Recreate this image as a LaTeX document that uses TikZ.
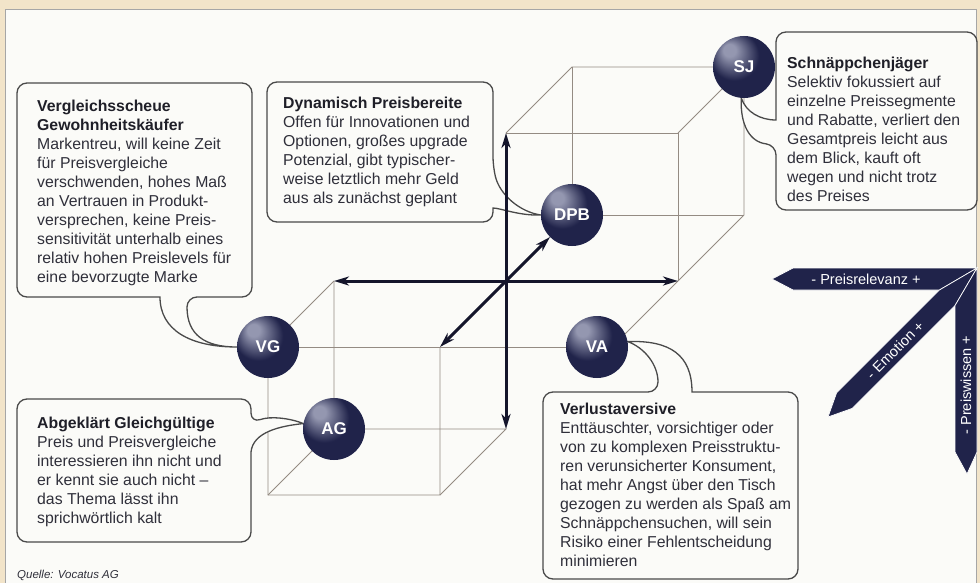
\documentclass[tikz,border=0pt]{standalone}
\usepackage{fontspec}
\setmainfont{Liberation Sans}
\usetikzlibrary{arrows.meta,backgrounds}
\definecolor{navy}{HTML}{20234A}
\definecolor{ballhi}{HTML}{9497B0}
\definecolor{frame}{HTML}{F2E4C9}
\definecolor{panel}{HTML}{FBFBF8}
\definecolor{cubeline}{HTML}{948B83}
\definecolor{boxline}{HTML}{4A4A4A}
\definecolor{txt}{HTML}{2F2F3A}
\definecolor{headtxt}{HTML}{1F1F28}
\definecolor{arrowcol}{HTML}{14152B}
\pgfdeclareradialshading{navyball}{\pgfpoint{-13bp}{15bp}}{color(0bp)=(ballhi); color(5bp)=(ballhi); color(20bp)=(navy); color(40bp)=(navy); color(50bp)=(navy!70!black)}
\newcommand{\boxhead}[1]{{\color{headtxt}\bfseries #1}}
\tikzset{
	ball/.style={circle,minimum size=62pt,inner sep=0pt,shade,shading=navyball,text=white,font=\bfseries\fontsize{17}{17}\selectfont},
	edge/.style={cubeline,line width=0.9pt},
	axis/.style={arrowcol,line width=3pt,<->,>={Stealth[length=15pt,width=9pt,inset=4.5pt]}},
	callout/.style={boxline,line width=1.3pt,fill=panel},
	boxtext/.style={anchor=north west,align=left,inner sep=0pt,text=txt,font=\fontsize{15.8}{19}\selectfont},
	band/.style={fill=navy,draw=white,line width=0.7pt},
	bandtext/.style={text=white,inner sep=0pt,font=\fontsize{14.5}{14.5}\selectfont}
}

\begin{document}
\begin{tikzpicture}[x=1pt,y=-1pt]
	\useasboundingbox (0,0) rectangle (980,583);

	\node[ball] (VG) at (268,347) {VG};
	\node[ball] (AG) at (334,429) {AG};
	\node[ball] (DPB) at (572,215) {DPB};
	\node[ball] (SJ) at (744,67) {SJ};
	\node[ball] (VA) at (597,347) {VA};

	\coordinate (lbtl) at (334,281);
	\coordinate (lbbr) at (506,429);
	\coordinate (lftr) at (440,347);
	\coordinate (lfbl) at (268,495);
	\coordinate (lfbr) at (440,495);
	\coordinate (uftl) at (506,133);
	\coordinate (uftr) at (678,133);
	\coordinate (ufbr) at (678,281);
	\coordinate (ubtl) at (572,67);
	\coordinate (ubbr) at (744,215);
	\coordinate (vatouch) at (622,337);

	\begin{scope}[on background layer]
		\fill[frame] (0,0) rectangle (980,583);
		\filldraw[fill=panel,draw=black!35,line width=0.6pt] (5,9) rectangle (976,590);

		\draw[edge] (lbtl) -- (VG) -- (lfbl) -- (lfbr) -- (lftr);
		\draw[edge] (lbtl) -- (AG) -- (lbbr) -- (lfbr);
		\draw[edge] (AG) -- (lfbl);
		\draw[edge] (VG) -- (VA);
		\draw[edge] (uftl) -- (ubtl) -- (SJ) -- (ubbr) -- (vatouch);
		\draw[edge] (ubtl) -- (DPB) -- (ubbr);
		\draw[edge] (uftl) -- (uftr) -- (ufbr);
		\draw[edge] (uftr) -- (SJ);

		\draw[callout] (135,83) [rounded corners=10pt] -- (252,83) -- (252,297) -- (187,297) [sharp corners] .. controls (187,335) and (205,347) .. (VG.west) .. controls (190,347) and (160,330) .. (160,297) [rounded corners=10pt] -- (17,297) -- (17,83) -- cycle;
		\draw[callout] (380,82) [rounded corners=10pt] -- (493,82) -- (493,167) [sharp corners] .. controls (500,195) and (520,212) .. (DPB.west) .. controls (520,216) and (500,208) .. (493,208) [rounded corners=10pt] -- (493,222) -- (267,222) -- (267,82) -- cycle;
		\draw[callout] (876,32) [rounded corners=10pt] -- (977,32) -- (977,210) -- (776,210) -- (776,145) [sharp corners] .. controls (750,142) and (740,125) .. (SJ.265) .. controls (746,112) and (760,120) .. (776,120) [rounded corners=10pt] -- (776,32) -- cycle;
		\draw[callout] (130,399) [rounded corners=10pt] -- (251,399) -- (251,423) [sharp corners] .. controls (270,416) and (290,418) .. (AG.170) .. controls (280,426) and (253,432) .. (251,452) [rounded corners=10pt] -- (251,542) -- (17,542) -- (17,399) -- cycle;
		\draw[callout] (600,392) [rounded corners=10pt] -- (658,392) [sharp corners] .. controls (658,365) and (645,348) .. (VA.10) .. controls (670,340) and (692,355) .. (692,392) [rounded corners=10pt] -- (798,392) -- (798,579) -- (543,579) -- (543,392) -- cycle;

		\draw[axis] (lbtl) -- (ufbr);
		\draw[axis] (lbbr) -- (uftl);
		\draw[axis] (lftr) -- (DPB);
	\end{scope}

	\node[boxtext] (vgtext) at (37,100) {\boxhead{Vergleichsscheue}\\\boxhead{Gewohnheitskäufer}\\Markentreu, will keine Zeit\\für Preisvergleiche\\verschwenden, hohes Maß\\an Vertrauen in Produkt-\\versprechen, keine Preis-\\sensitivität unterhalb eines\\relativ hohen Preislevels für\\eine bevorzugte Marke};
	\node[boxtext] (dpbtext) at (283,97) {\boxhead{Dynamisch Preisbereite}\\Offen für Innovationen und\\Optionen, großes upgrade\\Potenzial, gibt typischer-\\weise letztlich mehr Geld\\aus als zunächst geplant};
	\node[boxtext] (sjtext) at (787,57) {\boxhead{Schnäppchenjäger}\\Selektiv fokussiert auf\\einzelne Preissegmente\\und Rabatte, verliert den\\Gesamtpreis leicht aus\\dem Blick, kauft oft\\wegen und nicht trotz\\des Preises};
	\node[boxtext] (agtext) at (37,417) {\boxhead{Abgeklärt Gleichgültige}\\Preis und Preisvergleiche\\interessieren ihn nicht und\\er kennt sie auch nicht –\\das Thema lässt ihn\\sprichwörtlich kalt};
	\node[boxtext] (vatext) at (560,403) {\boxhead{Verlustaversive}\\Enttäuschter, vorsichtiger oder\\von zu komplexen Preisstruktu-\\ren verunsicherter Konsument,\\hat mehr Angst über den Tisch\\gezogen zu werden als Spaß am\\Schnäppchensuchen, will sein\\Risiko einer Fehlentscheidung\\minimieren};

	\filldraw[band] (977,268) -- (939.4,290) -- (793,290) -- (772,279) -- (793,268) -- cycle;
	\filldraw[band] (977,268) -- (939.4,290) -- (836.6,392.8) -- (828,417) -- (852.2,408.4) -- (955,305.6) -- cycle;
	\filldraw[band] (977,268) -- (955,305.6) -- (955,452) -- (967,474) -- (977,452) -- cycle;
	\node[bandtext] (relevanz) at (866,279) {- Preisrelevanz +};
	\node[bandtext,rotate=45] (emotion) at (895,350) {- Emotion +};
	\node[bandtext,rotate=90] (wissen) at (966,385) {- Preiswissen +};

	\node[anchor=west,inner sep=0pt,text=txt,font=\itshape\fontsize{11.5}{11.5}\selectfont] (quelle) at (17,575) {Quelle: Vocatus AG};
\end{tikzpicture}
\end{document}
